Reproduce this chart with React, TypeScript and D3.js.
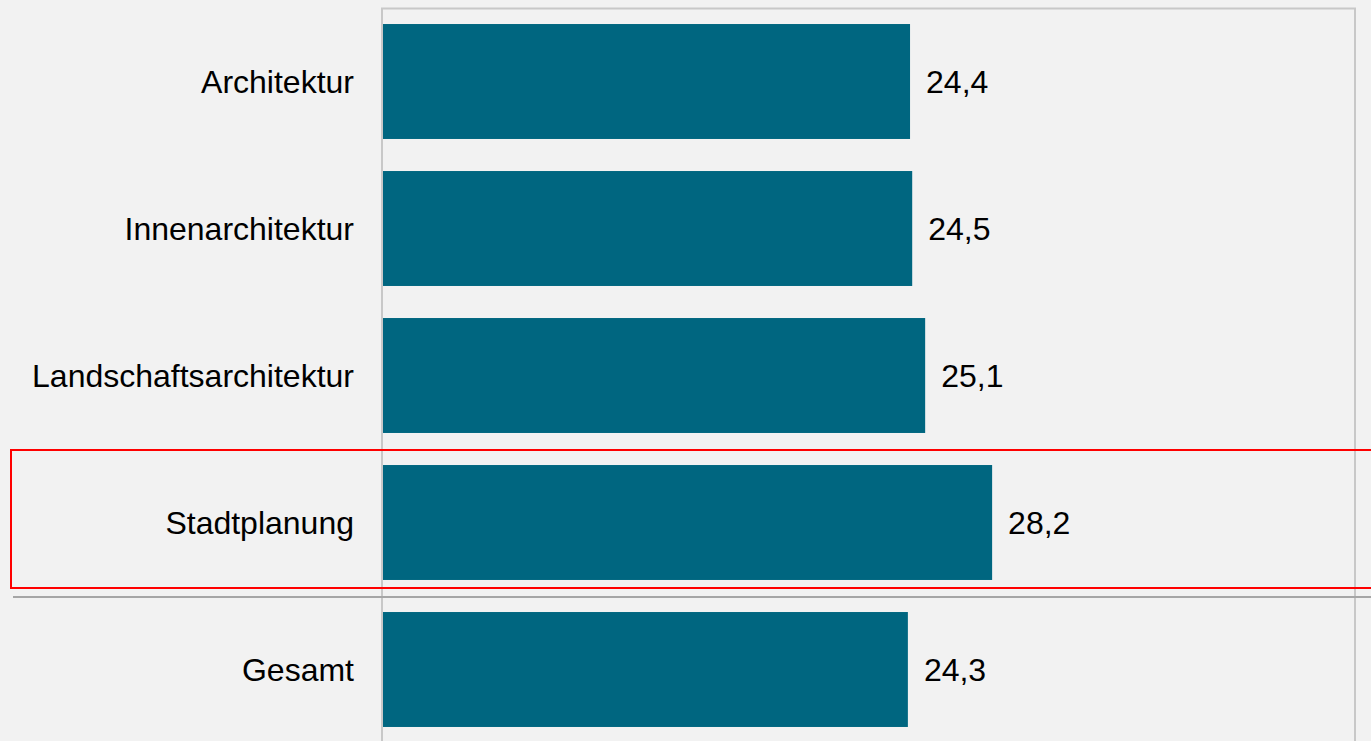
import React from "react";
import * as d3 from "d3";

const categories = ["Architektur", "Innenarchitektur", "Landschaftsarchitektur", "Stadtplanung", "Gesamt"];
const values = [24.4, 24.5, 25.1, 28.2, 24.3];
const highlighted = "Stadtplanung";
const separatorBefore = "Gesamt";

const W = 1371;
const H = 741;

export default function App() {
  const x = d3.scaleLinear().domain([0, 45]).range([383, 1355]);
  const y = d3
    .scaleBand<string>()
    .domain(categories)
    .range([8, 743])
    .paddingInner(0.218)
    .paddingOuter(0.109);

  const fmt = (v: number) => d3.format(".1f")(v).replace(".", ",");
  const font = "'Liberation Sans', Arial, sans-serif";
  const gap = y.step() - y.bandwidth();
  const hy = (y(highlighted) as number) - gap / 2;
  const sepY = (y(separatorBefore) as number) - gap / 2 + 1;

  return (
    <svg
      width={W}
      height={H}
      style={{ position: "absolute", left: 0, top: 0, display: "block" }}
    >
      <rect x={0} y={0} width={W} height={H} fill="#f2f2f2" />
      {/* plot frame */}
      <path
        d={`M${x(0) - 1},${H} V8.5 H${x(45)} V${H}`}
        fill="none"
        stroke="#c8c8c8"
        strokeWidth={2}
      />
      {categories.map((c, i) => {
        const by = y(c) as number;
        const bh = y.bandwidth();
        return (
          <g key={c}>
            <rect x={x(0)} y={by} width={x(values[i]) - x(0)} height={bh} fill="#006680" />
            <text
              x={354}
              y={by + bh / 2}
              dy="0.35em"
              textAnchor="end"
              fontFamily={font}
              fontSize={32}
              fill="#000"
            >
              {c}
            </text>
            <text
              x={x(values[i]) + 16}
              y={by + bh / 2}
              dy="0.35em"
              textAnchor="start"
              fontFamily={font}
              fontSize={32}
              fill="#000"
            >
              {fmt(values[i])}
            </text>
          </g>
        );
      })}
      {/* separator */}
      <line x1={13} x2={W} y1={sepY} y2={sepY} stroke="#a6a6a6" strokeWidth={2} />
      {/* highlight frame */}
      <rect
        x={11}
        y={hy + 1}
        width={W + 20}
        height={138}
        fill="none"
        stroke="#ff0000"
        strokeWidth={2}
      />
    </svg>
  );
}
